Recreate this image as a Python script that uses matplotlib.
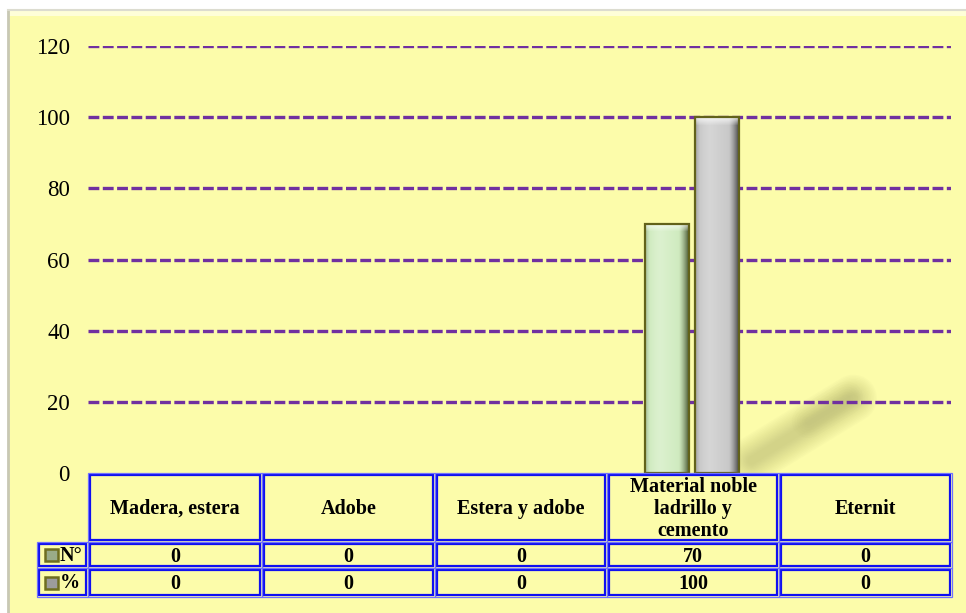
import numpy as np
import matplotlib
matplotlib.use("Agg")
import matplotlib.pyplot as plt
from matplotlib.patches import Rectangle
from matplotlib.lines import Line2D

plt.rcParams["lines.scale_dashes"] = False

# ---- data ----
categories = ["Madera, estera", "Adobe", "Estera y adobe",
              "Material noble\nladrillo y\ncemento", "Eternit"]
series_labels = ["N°", "%"]
n_values = [0, 0, 0, 70, 0]
pct_values = [0, 0, 0, 100, 0]
y_ticks = [0, 20, 40, 60, 80, 100, 120]

W, H = 966, 613
BG = "#FCFCAA"
GRID = "#7030A0"
BLUE = "#1010F0"
EDGE = "#62621A"
FONT = "Liberation Serif"

fig = plt.figure(figsize=(W / 100, H / 100), dpi=100)
fig.patch.set_facecolor("white")


def fx(px):
    return px / W


def fy(py):
    return 1 - py / H


# panel background
fig.patches.append(Rectangle((fx(8), 0), 1 - fx(8), fy(10), transform=fig.transFigure,
                             facecolor=BG, edgecolor="none", zorder=0))
fig.patches.append(Rectangle((fx(8), fy(16)), 1 - fx(8), fy(10) - fy(16),
                             transform=fig.transFigure, facecolor="#FEFED8",
                             edgecolor="none", zorder=0.1))
fig.lines.append(Line2D([fx(8), fx(8)], [0, fy(10)], transform=fig.transFigure,
                        color="#C8C8B4", lw=2, zorder=0.2))
fig.lines.append(Line2D([fx(8), 1], [fy(10), fy(10)], transform=fig.transFigure,
                        color="#DCDCD0", lw=1.5, zorder=0.2))

# ---- plot area ----
x_left, x_right = 88, 951
y_zero, y_top = 473, 46
ax = fig.add_axes([fx(x_left), fy(y_zero), fx(x_right) - fx(x_left), fy(y_top) - fy(y_zero)])
ax.set_facecolor("none")
ax.set_xlim(-0.5, len(categories) - 0.5)
ax.set_ylim(0, 120)
for s in ax.spines.values():
    s.set_visible(False)
ax.set_xticks([])
ax.set_yticks(y_ticks)
ax.set_yticklabels([str(t) for t in y_ticks], fontfamily=FONT, fontsize=16.5)
ax.tick_params(axis="y", length=0, pad=13)
for t in y_ticks[1:]:
    ax.axhline(t, color=GRID, lw=2.4, dashes=(7.8, 2.5), zorder=2.5)

x = np.arange(len(categories))
width = 0.255
offset = 0.147
px_per_unit = (y_zero - y_top) / 120.0


def shaded_bar(xc, h, base, dark, light):
    if h <= 0:
        return
    bars = ax.bar([xc], [h], width=width, color="none", edgecolor=EDGE, lw=1.6, zorder=4)
    patch = bars[0]
    ncol = 60
    nrow = max(int(h * px_per_unit), 2)
    u = np.linspace(0, 1, ncol)
    base = np.array(matplotlib.colors.to_rgb(base))
    dark = np.array(matplotlib.colors.to_rgb(dark))
    light = np.array(matplotlib.colors.to_rgb(light))
    # horizontal profile: soft left edge, light band, base, dark right side
    prof = np.zeros((ncol, 3))
    for i, t in enumerate(u):
        if t < 0.1:
            k = t / 0.1
            c = base * (0.82 + 0.18 * k)
        elif t < 0.35:
            k = np.sin((t - 0.1) / 0.25 * np.pi / 2)
            c = base * (1 - 0.3 * k) + light * 0.3 * k
        elif t < 0.75:
            k = (t - 0.35) / 0.4
            c = (base * 0.7 + light * 0.3) * (1 - k) + base * k
        else:
            k = ((t - 0.75) / 0.25) ** 1.4
            c = base * (1 - k) + dark * k
        prof[i] = np.clip(c, 0, 1)
    img = np.tile(prof[None, :, :], (nrow, 1, 1))
    bevel = min(8, nrow)
    for r in range(bevel):
        k = 1 - r / bevel
        img[r] = img[r] * (1 - 0.75 * k) + np.ones(3) * 0.75 * k
    im = ax.imshow(img, extent=(xc - width / 2, xc + width / 2, 0, h), origin="upper",
                   aspect="auto", zorder=3, interpolation="bilinear")
    im.set_clip_path(patch)


# soft shadow cast by the taller bar
for i, v in enumerate(pct_values):
    if v > 0:
        x0 = x[i] + offset + width / 2
        xs = [x0 + 0.07, x0 + 0.66]
        ys = [3.5, 21.0]
        for lw_ in np.linspace(34, 6, 14):
            ax.plot(xs, ys, color="#9A9A5A", lw=lw_, alpha=0.03,
                    solid_capstyle="round", zorder=2)
        xs2 = [x0 + 0.40, x0 + 0.62]
        ys2 = [14.5, 21.0]
        for lw_ in np.linspace(24, 6, 6):
            ax.plot(xs2, ys2, color="#9A9A5A", lw=lw_, alpha=0.025,
                    solid_capstyle="round", zorder=2)

for i in range(len(categories)):
    shaded_bar(x[i] - offset, n_values[i], "#D0EBC0", "#3E4A26", "#F6FFF0")
    shaded_bar(x[i] + offset, pct_values[i], "#C9C9C9", "#3C3C3C", "#F2F2F2")

ax.set_zorder(2)

# ---- data table ----
col_edges = [88, 262, 435, 607, 779, 952]
row_edges = [473, 542, 568, 597]
label_left = 37
TFS = 14.5


def cell(x0, y0, x1, y1):
    ins = 2.2
    fig.patches.append(Rectangle((fx(x0 + ins), fy(y1 - ins)),
                                 fx(x1 - x0 - 2 * ins), (y1 - y0 - 2 * ins) / H,
                                 transform=fig.transFigure, facecolor="none",
                                 edgecolor=BLUE, lw=1.6, zorder=5))
    fig.patches.append(Rectangle((fx(x0), fy(y1)), fx(x1 - x0), (y1 - y0) / H,
                                 transform=fig.transFigure, facecolor="none",
                                 edgecolor="#7070FF", lw=0.9, zorder=5))


for j, name in enumerate(categories):
    x0, x1 = col_edges[j], col_edges[j + 1]
    cell(x0, row_edges[0], x1, row_edges[1])
    fig.text(fx((x0 + x1) / 2), fy((row_edges[0] + row_edges[1]) / 2 + 1.5), name,
             ha="center", va="center", fontfamily=FONT, fontweight="bold",
             fontsize=TFS, linespacing=1.12, zorder=6)

series_values = [n_values, pct_values]
swatch_colors = ["#9AAC88", "#9C9C9C"]
for r, (lab, vals) in enumerate(zip(series_labels, series_values)):
    y0, y1 = row_edges[r + 1], row_edges[r + 2]
    yc = (y0 + y1) / 2
    cell(label_left, y0, col_edges[0], y1)
    fig.patches.append(Rectangle((fx(45), fy(yc + 6)), fx(13), 12 / H,
                                 transform=fig.transFigure, facecolor=swatch_colors[r],
                                 edgecolor="#6E6E20", lw=1.8, zorder=6))
    fig.text(fx(60), fy(yc + 1), lab, ha="left", va="center", fontfamily=FONT,
             fontweight="bold", fontsize=TFS, zorder=6)
    for j, v in enumerate(vals):
        x0, x1 = col_edges[j], col_edges[j + 1]
        cell(x0, y0, x1, y1)
        fig.text(fx((x0 + x1) / 2), fy(yc + 1.5), str(v), ha="center", va="center",
                 fontfamily=FONT, fontweight="bold", fontsize=TFS, zorder=6)

fig.savefig("out.png", dpi=100, facecolor=fig.get_facecolor())
